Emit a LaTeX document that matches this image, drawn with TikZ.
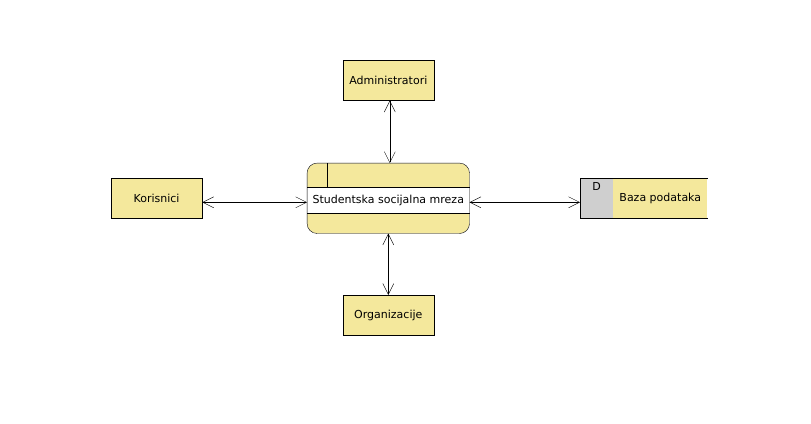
\documentclass[tikz,border=0pt]{standalone}
\usepackage{fontspec}
\setmainfont{DejaVu Sans}
\usetikzlibrary{arrows.meta,positioning}

\definecolor{khaki}{HTML}{F4E89C}
\definecolor{storegray}{HTML}{CFCFCF}

\begin{document}
\begin{tikzpicture}[x=1pt,y=-1pt,>={Straight Barb[length=11pt,width=11pt]},
    font=\fontsize{11}{13}\selectfont,
    entity/.style={draw,fill=khaki,inner sep=0pt,minimum width=91pt,minimum height=40pt},
    process/.style={fill=khaki,rounded corners=10pt,inner sep=0pt,minimum width=162pt,minimum height=70pt},
    storeid/.style={draw,fill=storegray,inner sep=0pt,minimum width=32.7pt,minimum height=40pt},
    storebody/.style={fill=khaki,inner sep=0pt,minimum width=94pt,minimum height=40pt}]

                \useasboundingbox (0,0) rectangle (811,423);

                \node[process] (proc) at (388.3,198.3) {};

                \fill[white] ([yshift=-24pt]proc.north west) rectangle ([yshift=20pt]proc.south east);

                \draw[rounded corners=10pt] (proc.north west) rectangle (proc.south east);

                \draw ([yshift=-24pt]proc.north west) -- ([yshift=-24pt]proc.north east)

                      ([yshift=20pt]proc.south west) -- ([yshift=20pt]proc.south east)

                      ([xshift=20pt]proc.north west) -- ([xshift=20pt,yshift=-24pt]proc.north west);

                \node (procname) [yshift=-2pt] at (proc.center) {Studentska socijalna mreza};

                

                \node[entity] (adm) [above=62.5pt of proc] {Administratori};

                \node[entity] (kor) [left=104.8pt of proc] {Korisnici};

                \node[entity] (org) [below=61.5pt of proc] {Organizacije};

                \node[storeid] (dstore) [right=110.5pt of proc] {};

                \node[storebody] (baza) [right=0pt of dstore] {Baza podataka};

                \node (did) [below=1pt of dstore.north] {D};

                \draw (dstore.north east) -- (baza.north east)

                      (dstore.south east) -- (baza.south east);

                

                \path[<->] ([xshift=1.5pt]adm.south) edge ([xshift=1.5pt]proc.north)

                           (org) edge (proc)

                           ([yshift=-4pt]kor.east) edge ([yshift=-4pt]proc.west)

                           ([yshift=-4pt]dstore.west) edge ([yshift=-4pt]proc.east);

            \end{tikzpicture}
\end{document}
